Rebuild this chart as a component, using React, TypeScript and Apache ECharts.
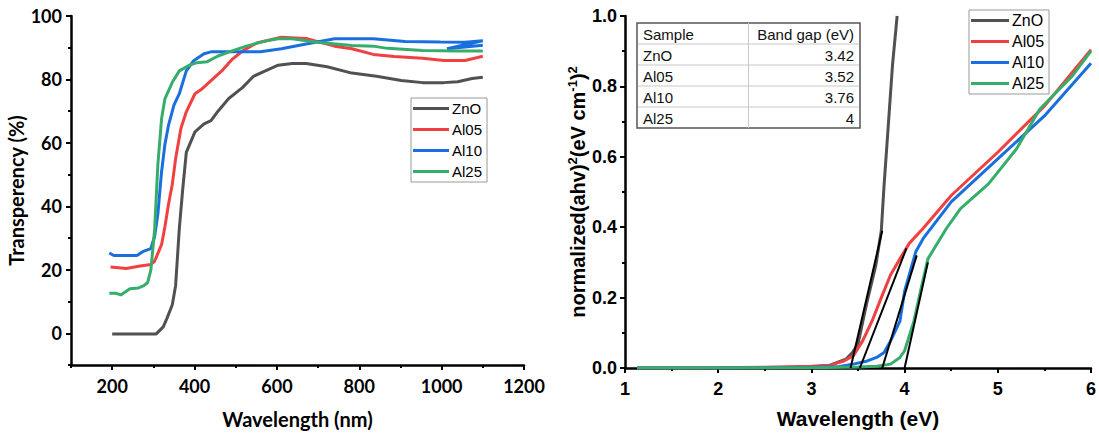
import React, { useEffect, useRef } from "react";
import * as echarts from "echarts";

// ---------- Left chart: transmittance ----------
const nmZnO = [200, 307, 324, 333, 346, 354, 363, 371, 380, 401, 423, 440, 457, 483, 517, 543, 568, 603, 637, 671, 722, 782, 842, 902, 954, 1005, 1039, 1074, 1100];
const tZnO = [-0.2, -0.2, 2, 4.7, 9, 15, 33, 45, 57, 63.5, 66, 67, 70, 74, 77.5, 81, 82.5, 84.5, 85, 85, 84, 82, 81, 79.7, 79, 79, 79.3, 80.3, 80.7];

const nmAl05 = [196, 234, 268, 294, 303, 320, 328, 337, 346, 354, 367, 380, 401, 418, 440, 466, 491, 517, 551, 577, 611, 645, 671, 697, 740, 782, 834, 885, 954, 1005, 1057, 1100];
const tAl05 = [20.9, 20.4, 21.2, 21.7, 22.7, 28, 33.6, 40.8, 47, 55, 64.6, 69.8, 75.5, 77, 79.6, 82.7, 86.3, 89, 91.5, 92.3, 93.3, 93.1, 92.9, 92, 90.5, 89.7, 87.9, 87.2, 86.7, 86, 86, 87.3];

const nmAl10 = [193, 204, 260, 277, 294, 303, 311, 320, 328, 337, 350, 363, 380, 397, 423, 440, 483, 560, 611, 671, 740, 834, 911, 997, 1057, 1100, 1013, 1100];
const tAl10 = [25.3, 24.5, 24.5, 25.9, 26.7, 30.5, 37.7, 51, 59.5, 65.7, 71.9, 75.5, 82.7, 85.8, 88.1, 88.7, 88.7, 88.7, 89.7, 91.2, 92.8, 92.8, 92, 91.8, 91.7, 92.2, 89.7, 90.8];

const nmAl25 = [193, 209, 221, 243, 264, 277, 286, 294, 303, 311, 320, 328, 346, 363, 388, 406, 431, 457, 491, 526, 568, 603, 637, 697, 782, 834, 868, 954, 1039, 1100];
const tAl25 = [12.6, 12.6, 12.1, 14, 14.3, 15, 16, 20, 32.6, 53.3, 67.7, 73.9, 79.1, 82.7, 84.5, 85.3, 85.6, 87.4, 89, 90.5, 92, 92.8, 92.8, 91.7, 90.7, 90.5, 89.8, 89.1, 89, 89];

const leftXTicks = [200, 400, 600, 800, 1000, 1200];
const leftYTicks = [0, 20, 40, 60, 80, 100];

// ---------- Right chart: Tauc plot ----------
const evZnO = [1.13, 2.0, 2.5, 3.0, 3.2, 3.37, 3.44, 3.5, 3.59, 3.69, 3.75, 3.78, 3.82, 3.87, 3.92];
const aZnO = [0, 0, 0.001, 0.003, 0.008, 0.025, 0.044, 0.068, 0.18, 0.29, 0.39, 0.52, 0.67, 0.86, 1.0];

const evAl05 = [1.13, 2.0, 2.5, 3.0, 3.2, 3.35, 3.45, 3.55, 3.65, 3.75, 3.85, 3.95, 4.05, 4.2, 4.5, 5.0, 5.5, 6.0];
const aAl05 = [0, 0.001, 0.002, 0.005, 0.008, 0.02, 0.035, 0.077, 0.133, 0.2, 0.265, 0.31, 0.354, 0.397, 0.49, 0.613, 0.744, 0.904];

const evAl10 = [1.13, 2.0, 3.0, 3.3, 3.45, 3.6, 3.7, 3.78, 3.85, 3.95, 4.0, 4.08, 4.12, 4.2, 4.5, 5.0, 5.5, 6.0];
const aAl10 = [0, 0, 0.002, 0.004, 0.011, 0.02, 0.03, 0.044, 0.077, 0.133, 0.218, 0.293, 0.33, 0.368, 0.472, 0.594, 0.716, 0.866];

const evAl25 = [1.13, 2.0, 3.0, 3.5, 3.7, 3.85, 3.95, 4.0, 4.05, 4.1, 4.17, 4.25, 4.45, 4.6, 4.9, 5.2, 5.45, 5.8, 6.0];
const aAl25 = [0, 0, 0.001, 0.003, 0.005, 0.011, 0.03, 0.049, 0.091, 0.133, 0.218, 0.31, 0.397, 0.453, 0.523, 0.622, 0.735, 0.83, 0.9];

// band gap table + tangent (fit) lines
const samples = ["ZnO", "Al05", "Al10", "Al25"];
const bandGaps = [3.42, 3.52, 3.76, 4];
const fitEndX = [3.76, 4.02, 4.13, 4.25];
const fitEndY = [0.39, 0.34, 0.32, 0.3];

const colors = ["#515151", "#F14040", "#1A6FDF", "#37AD6B"];

const zip = (xs: number[], ys: number[]) => xs.map((x, i) => [x, ys[i]]);

export default function App() {
  const ref = useRef<HTMLDivElement>(null);

  useEffect(() => {
    if (!ref.current) return;
    const chart = echarts.init(ref.current, undefined, { renderer: "svg" });

    const leftFont = "Lato";
    const rightFont = "Liberation Sans";

    const leftData = [
      zip(nmZnO, tZnO),
      zip(nmAl05, tAl05),
      zip(nmAl10, tAl10),
      zip(nmAl25, tAl25),
    ];
    const rightData = [
      zip(evZnO, aZnO),
      zip(evAl05, aAl05),
      zip(evAl10, aAl10),
      zip(evAl25, aAl25),
    ];

    const series: any[] = [];
    samples.forEach((name, i) => {
      series.push({
        type: "line",
        name,
        xAxisIndex: 0,
        yAxisIndex: 0,
        data: leftData[i],
        showSymbol: false,
        symbol: "none",
        lineStyle: { color: colors[i], width: 3 },
        itemStyle: { color: colors[i] },
      });
    });
    samples.forEach((name, i) => {
      series.push({
        type: "line",
        name,
        xAxisIndex: 2,
        yAxisIndex: 2,
        data: rightData[i],
        showSymbol: false,
        symbol: "none",
        lineStyle: { color: colors[i], width: 3 },
        itemStyle: { color: colors[i] },
        z: 2,
      });
    });
    samples.forEach((name, i) => {
      series.push({
        type: "line",
        name: "fit " + name,
        xAxisIndex: 2,
        yAxisIndex: 2,
        data: [
          [bandGaps[i], 0],
          [fitEndX[i], fitEndY[i]],
        ],
        showSymbol: false,
        symbol: "none",
        lineStyle: { color: "#000", width: 2 },
        z: 3,
      });
    });

    // table graphic
    const tX = 637, tY = 23, tW = 223, rowH = 21, colX = 748.5;
    const rows = [["Sample", "Band gap (eV)"], ...samples.map((s, i) => [s, String(bandGaps[i])])];
    const tH = rowH * rows.length;
    const graphics: any[] = [
      {
        type: "rect",
        shape: { x: tX, y: tY, width: tW, height: tH },
        style: { fill: "#fff", stroke: "#555", lineWidth: 1.5 },
        z: 10,
      },
      {
        type: "line",
        shape: { x1: colX, y1: tY, x2: colX, y2: tY + tH },
        style: { stroke: "#c8c8c8", lineWidth: 1 },
        z: 11,
      },
    ];
    for (let r = 1; r < rows.length; r++) {
      graphics.push({
        type: "line",
        shape: { x1: tX + 1, y1: tY + r * rowH, x2: tX + tW - 1, y2: tY + r * rowH },
        style: { stroke: "#c8c8c8", lineWidth: 1 },
        z: 11,
      });
    }
    rows.forEach((row, r) => {
      const cy = tY + r * rowH + rowH / 2 + 0.5;
      graphics.push({
        type: "text",
        x: tX + 6,
        y: cy,
        style: { text: row[0], fill: "#111", font: `15px "${rightFont}"`, verticalAlign: "middle", align: "left" },
        z: 12,
      });
      graphics.push({
        type: "text",
        x: tX + tW - 6,
        y: cy,
        style: { text: row[1], fill: "#111", font: `15px "${rightFont}"`, verticalAlign: "middle", align: "right" },
        z: 12,
      });
    });

    const axisLine = { show: true, onZero: false, lineStyle: { color: "#000", width: 2.5 } };

    const option: any = {
      animation: false,
      backgroundColor: "#fff",
      grid: [
        { left: 71, top: 16, width: 453, height: 355 },
        { left: 625, top: 16, width: 468, height: 355 },
      ],
      legend: [
        {
          data: samples,
          orient: "vertical",
          left: 411,
          top: 98,
          padding: [0, 5, 0, 2],
          itemGap: 0,
          itemWidth: 36,
          itemHeight: 3,
          icon: "rect",
          borderColor: "#999",
          borderWidth: 1,
          textStyle: { fontFamily: rightFont, fontSize: 15, color: "#000", lineHeight: 21, padding: [0, 0, 0, -2] },
        },
        {
          data: samples,
          orient: "vertical",
          left: 969,
          top: 10,
          padding: [0, 5, 0, 2],
          itemGap: 0,
          itemWidth: 38,
          itemHeight: 3,
          icon: "rect",
          borderColor: "#999",
          borderWidth: 1,
          textStyle: { fontFamily: rightFont, fontSize: 16, color: "#000", lineHeight: 21, padding: [0, 0, 0, -2] },
        },
      ],
      xAxis: [
        {
          type: "value",
          gridIndex: 0,
          position: "bottom",
          min: 100,
          max: 1200,
          name: "Wavelength (nm)",
          nameLocation: "middle",
          nameGap: 44,
          nameTextStyle: { fontFamily: leftFont, fontWeight: "bold", fontSize: 20, color: "#000" },
          axisLine,
          axisTick: { show: true, length: 5, lineStyle: { color: "#000", width: 2 }, customValues: leftXTicks },
          axisLabel: {
            fontFamily: leftFont,
            fontWeight: "bold",
            fontSize: 18,
            color: "#000",
            margin: 12,
            customValues: leftXTicks,
            formatter: (v: number) => String(v),
          },
          splitLine: { show: false },
        },
        {
          type: "value",
          gridIndex: 0,
          position: "bottom",
          min: 100,
          max: 1200,
          interval: 100,
          axisLine: { show: false, onZero: false },
          axisTick: { show: true, length: 3, lineStyle: { color: "#000", width: 2 } },
          axisLabel: { show: false },
          splitLine: { show: false },
        },
        {
          type: "value",
          gridIndex: 1,
          position: "bottom",
          min: 1,
          max: 6,
          interval: 1,
          name: "Wavelength (eV)",
          nameLocation: "middle",
          nameGap: 40,
          nameTextStyle: { fontFamily: rightFont, fontWeight: "bold", fontSize: 21, color: "#000" },
          axisLine,
          axisTick: { show: true, length: 5, lineStyle: { color: "#000", width: 2 } },
          minorTick: { show: true, splitNumber: 2, length: 3, lineStyle: { color: "#000", width: 2 } },
          axisLabel: { fontFamily: rightFont, fontWeight: "bold", fontSize: 18, color: "#000", margin: 12 },
          splitLine: { show: false },
        },
      ],
      yAxis: [
        {
          type: "value",
          gridIndex: 0,
          position: "left",
          min: -10,
          max: 100,
          name: "Transperency (%)",
          nameLocation: "middle",
          nameGap: 45,
          nameRotate: 90,
          nameTextStyle: { fontFamily: leftFont, fontWeight: "bold", fontSize: 20, color: "#000" },
          axisLine,
          axisTick: { show: true, length: 5, lineStyle: { color: "#000", width: 2 }, customValues: leftYTicks },
          axisLabel: { fontFamily: leftFont, fontWeight: "bold", fontSize: 18, color: "#000", margin: 9, customValues: leftYTicks },
          splitLine: { show: false },
        },
        {
          type: "value",
          gridIndex: 0,
          position: "left",
          min: -10,
          max: 100,
          interval: 10,
          axisLine: { show: false, onZero: false },
          axisTick: { show: true, length: 3, lineStyle: { color: "#000", width: 2 } },
          axisLabel: { show: false },
          splitLine: { show: false },
        },
        {
          type: "value",
          gridIndex: 1,
          position: "left",
          min: 0,
          max: 1,
          interval: 0.2,
          name: "{b|normalized(ahv)}{s|2}{b|(eV cm}{s|-1}{b|)}{s|2}",
          nameLocation: "middle",
          nameGap: 34,
          nameRotate: 90,
          nameTextStyle: {
            fontFamily: rightFont,
            fontWeight: "bold",
            fontSize: 20,
            color: "#000",
            rich: {
              b: { fontFamily: rightFont, fontWeight: "bold", fontSize: 20, color: "#000", lineHeight: 24 },
              s: { fontFamily: rightFont, fontWeight: "bold", fontSize: 13, color: "#000", verticalAlign: "top", lineHeight: 24 },
            },
          },
          axisLine,
          axisTick: { show: true, length: 5, lineStyle: { color: "#000", width: 2 } },
          minorTick: { show: true, splitNumber: 2, length: 3, lineStyle: { color: "#000", width: 2 } },
          axisLabel: {
            fontFamily: rightFont,
            fontWeight: "bold",
            fontSize: 18,
            color: "#000",
            margin: 8,
            formatter: (v: number) => v.toFixed(1),
          },
          splitLine: { show: false },
        },
      ],
      series,
      graphic: graphics,
    };

    chart.setOption(option);
    return () => chart.dispose();
  }, []);

  return (
    <div
      ref={ref}
      style={{ position: "absolute", left: 0, top: 0, width: 1099, height: 434, background: "#fff" }}
    />
  );
}
